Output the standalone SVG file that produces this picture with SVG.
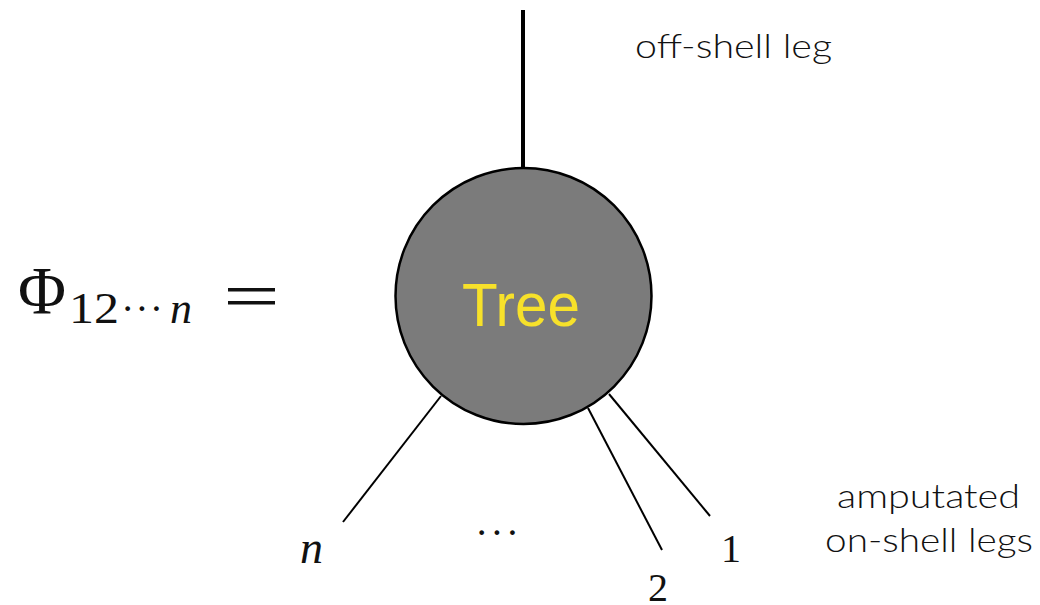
<svg xmlns="http://www.w3.org/2000/svg" width="1040" height="605" viewBox="0 0 1040 605">
<style>
.leg{stroke:#000;stroke-width:2;fill:none}
.math{font-family:"Liberation Serif","DejaVu Serif",serif;fill:#111}
.lbl{font-family:Lato,"Open Sans",sans-serif;font-weight:300;fill:#111}
</style>
<rect width="1040" height="605" fill="#fff"/>
<g id="connectors">
<line x1="523" y1="10" x2="523" y2="170" stroke="#000" stroke-width="4"/>
<line class="leg" x1="441" y1="396" x2="343" y2="522"/>
<line class="leg" x1="588" y1="408" x2="662" y2="550"/>
<line class="leg" x1="609" y1="394" x2="710" y2="516"/>
</g>
<g id="tree">
<circle cx="523.5" cy="296" r="128" fill="#7b7b7b" stroke="#000" stroke-width="2.5"/>
<text x="521" y="326" text-anchor="middle" font-family="Liberation Sans, Arial, sans-serif" font-size="62" fill="#f7e12a" textLength="118" lengthAdjust="spacingAndGlyphs">Tree</text>
</g>
<g id="formula">
<text class="math" x="18" y="313" font-size="68" textLength="48" lengthAdjust="spacingAndGlyphs">Φ</text>
<text class="math" x="69" y="323" font-size="44" textLength="50" lengthAdjust="spacingAndGlyphs">12</text>
<text class="math" x="121" y="322" font-size="40" textLength="42" lengthAdjust="spacing">···</text>
<text class="math" x="170" y="323" font-size="44" font-style="italic">n</text>
<rect x="228" y="288" width="47" height="3.5" fill="#111"/>
<rect x="228" y="301" width="47" height="3.5" fill="#111"/>
</g>
<g id="labels">
<text class="lbl" x="635" y="58" font-size="33" textLength="197" lengthAdjust="spacingAndGlyphs">off-shell leg</text>
<text class="lbl" x="837" y="508" font-size="33" textLength="183" lengthAdjust="spacingAndGlyphs">amputated</text>
<text class="lbl" x="825" y="552" font-size="33" textLength="208" lengthAdjust="spacingAndGlyphs">on-shell legs</text>
<text class="math" x="300" y="563" font-size="46" font-style="italic">n</text>
<text class="math" x="475" y="546" font-size="40" textLength="44" lengthAdjust="spacing">···</text>
<text class="math" x="648" y="601" font-size="40">2</text>
<text class="math" x="721" y="562" font-size="40">1</text>
</g>
</svg>
